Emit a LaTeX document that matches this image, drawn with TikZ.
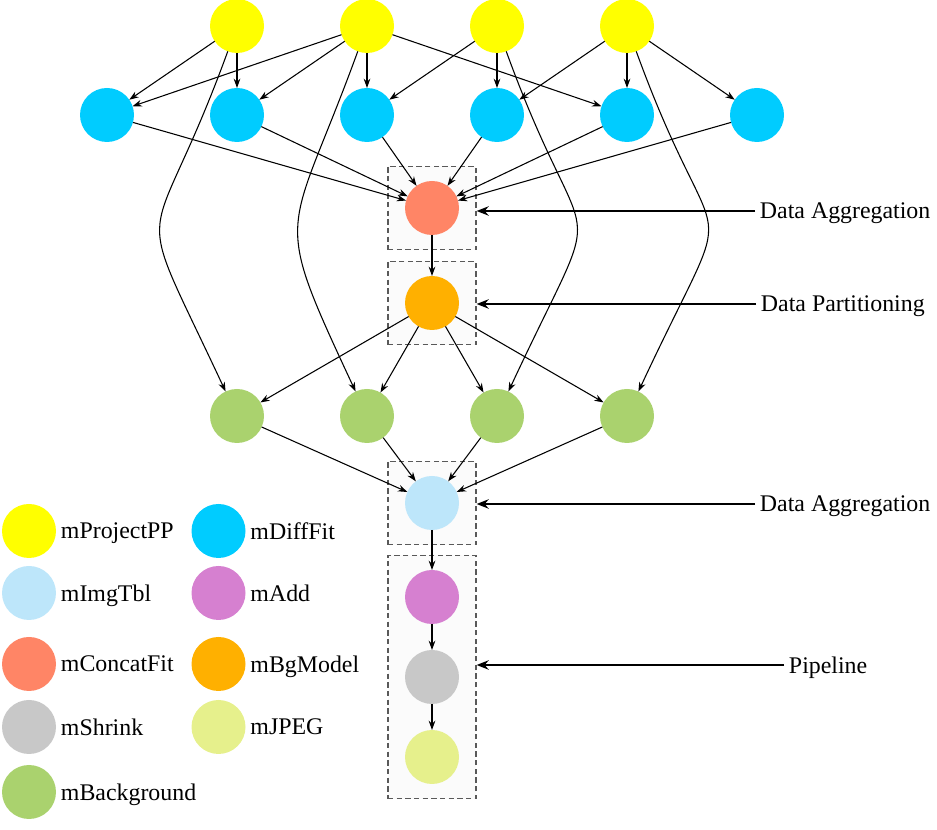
\documentclass[tikz,border=0pt]{standalone}
\usepackage{fontspec}
\setmainfont{Liberation Serif}
\usetikzlibrary{arrows.meta,positioning,fit,backgrounds}

\definecolor{cproject}{RGB}{255,255,0}
\definecolor{cdiff}{RGB}{0,204,255}
\definecolor{cimgtbl}{RGB}{189,230,250}
\definecolor{cadd}{RGB}{214,128,208}
\definecolor{cconcat}{RGB}{255,133,102}
\definecolor{cbgmodel}{RGB}{255,176,0}
\definecolor{cshrink}{RGB}{200,200,200}
\definecolor{cjpeg}{RGB}{230,240,140}
\definecolor{cbackground}{RGB}{170,210,110}

\begin{document}
\begin{tikzpicture}[
        ->,>={Stealth[length=7pt,width=5pt]},
        x=0.75pt, y=0.75pt, thick
    ]

    \tikzstyle{task} = [circle,minimum size=40.5pt,inner sep=0pt,outer sep=0pt]
    \tikzstyle{legtext} = [font=\fontsize{17.9}{20}\selectfont,text depth=0pt]
    \tikzstyle{phase} = [rectangle,draw=black!65,dash pattern=on 4pt off 2.5pt,line width=0.9pt,
        fill=black!1.5,inner xsep=12.75pt,inner ysep=10.9pt]
    \tikzstyle{callout} = [line width=1.5pt,-{Stealth[length=9pt,width=7pt]}]

    \useasboundingbox (0,0) rectangle (937,830);

    % workflow
    \node[task,fill=cproject] (proj1) at (237,804) {};
    \node[task,fill=cproject] (proj2) [right=57pt of proj1] {};
    \node[task,fill=cproject] (proj3) [right=57pt of proj2] {};
    \node[task,fill=cproject] (proj4) [right=57pt of proj3] {};

    \node[task,fill=cdiff] (diff2) [below=26.25pt of proj1] {};
    \node[task,fill=cdiff] (diff1) [left=57pt of diff2] {};
    \node[task,fill=cdiff] (diff3) [below=26.25pt of proj2] {};
    \node[task,fill=cdiff] (diff4) [below=26.25pt of proj3] {};
    \node[task,fill=cdiff] (diff5) [below=26.25pt of proj4] {};
    \node[task,fill=cdiff] (diff6) [right=57pt of diff5] {};

    \node[task,fill=cconcat]  (concat)  at (432,622) {};
    \node[task,fill=cbgmodel] (bgmodel) [below=30.75pt of concat] {};

    \node[task,fill=cbackground] (back1) at (237,414) {};
    \node[task,fill=cbackground] (back2) [right=57pt of back1] {};
    \node[task,fill=cbackground] (back3) [right=57pt of back2] {};
    \node[task,fill=cbackground] (back4) [right=57pt of back3] {};

    \node[task,fill=cimgtbl] (imgtbl) at (432,327) {};
    \node[task,fill=cadd]    (add)    [below=30pt of imgtbl] {};
    \node[task,fill=cshrink] (shrink) [below=19.5pt of add] {};
    \node[task,fill=cjpeg]   (jpeg)   [below=19.5pt of shrink] {};

    % dashed groups
    \begin{scope}[on background layer]
        \node[phase,fit=(concat)]   (aggbox1) {};
        \node[phase,fit=(bgmodel)]  (partbox) {};
        \node[phase,fit=(imgtbl)]   (aggbox2) {};
        \node[phase,fit=(add)(jpeg)] (pipebox) {};
    \end{scope}

    \node[legtext,anchor=west] (aggtxt1)  at (755,619) {Data Aggregation};
    \node[legtext,anchor=west] (parttxt)  at (756,526) {Data Partitioning};
    \node[legtext,anchor=west] (aggtxt2)  at (755,326) {Data Aggregation};
    \node[legtext,anchor=west] (pipetxt)  at (784,165) {Pipeline};

    % legend
    \node[task,fill=cproject]    (lgproject) at (29,299) {};
    \node[task,fill=cimgtbl]     (lgimgtbl)  at (29,237) {};
    \node[task,fill=cconcat]     (lgconcat)  at (29,166) {};
    \node[task,fill=cshrink]     (lgshrink)  at (29,103) {};
    \node[task,fill=cbackground] (lgback)    at (29,38) {};
    \node[task,fill=cdiff]       (lgdiff)    at (218.5,299) {};
    \node[task,fill=cadd]        (lgadd)     at (218.5,237) {};
    \node[task,fill=cbgmodel]    (lgbgmodel) at (218.5,166) {};
    \node[task,fill=cjpeg]       (lgjpeg)    at (218.5,103) {};

    \node[legtext] (lgprojecttxt) [right=0pt of lgproject] {mProjectPP};
    \node[legtext] (lgimgtbltxt)  [right=0pt of lgimgtbl]  {mImgTbl};
    \node[legtext] (lgconcattxt)  [right=0pt of lgconcat]  {mConcatFit};
    \node[legtext] (lgshrinktxt)  [right=0pt of lgshrink]  {mShrink};
    \node[legtext] (lgbacktxt)    [right=0pt of lgback]    {mBackground};
    \node[legtext] (lgdifftxt)    [right=0pt of lgdiff]    {mDiffFit};
    \node[legtext] (lgaddtxt)     [right=0pt of lgadd]     {mAdd};
    \node[legtext] (lgbgmodeltxt) [right=0pt of lgbgmodel] {mBgModel};
    \node[legtext] (lgjpegtxt)    [right=0pt of lgjpeg]    {mJPEG};

    \path[]
        (proj1) edge (diff1)
        (proj1) edge (diff2)
        (proj2) edge (diff1)
        (proj2) edge (diff2)
        (proj2) edge (diff3)
        (proj2) edge (diff5)
        (proj3) edge (diff3)
        (proj3) edge (diff4)
        (proj4) edge (diff4)
        (proj4) edge (diff5)
        (proj4) edge (diff6)

        (proj1) edge[out=-110,in=115,looseness=1.74] (back1)
        (proj2) edge[out=-110,in=115,looseness=1.53] (back2)
        (proj3) edge[out=-70,in=65,looseness=1.82]   (back3)
        (proj4) edge[out=-70,in=65,looseness=1.85]   (back4)

        (diff1) edge (concat)
        (diff2) edge (concat)
        (diff3) edge (concat)
        (diff4) edge (concat)
        (diff5) edge (concat)
        (diff6) edge (concat)

        (concat)  edge (bgmodel)
        (bgmodel) edge (back1)
        (bgmodel) edge (back2)
        (bgmodel) edge (back3)
        (bgmodel) edge (back4)

        (back1) edge (imgtbl)
        (back2) edge (imgtbl)
        (back3) edge (imgtbl)
        (back4) edge (imgtbl)

        (imgtbl) edge (add)
        (add)    edge (shrink)
        (shrink) edge (jpeg)
    ;

    \draw[callout] (aggtxt1.west) -- (aggtxt1.west -| aggbox1.east);
    \draw[callout] (parttxt.west) -- (parttxt.west -| partbox.east);
    \draw[callout] (aggtxt2.west) -- (aggtxt2.west -| aggbox2.east);
    \draw[callout] (pipetxt.west) -- (pipetxt.west -| pipebox.east);

\end{tikzpicture}
\end{document}
